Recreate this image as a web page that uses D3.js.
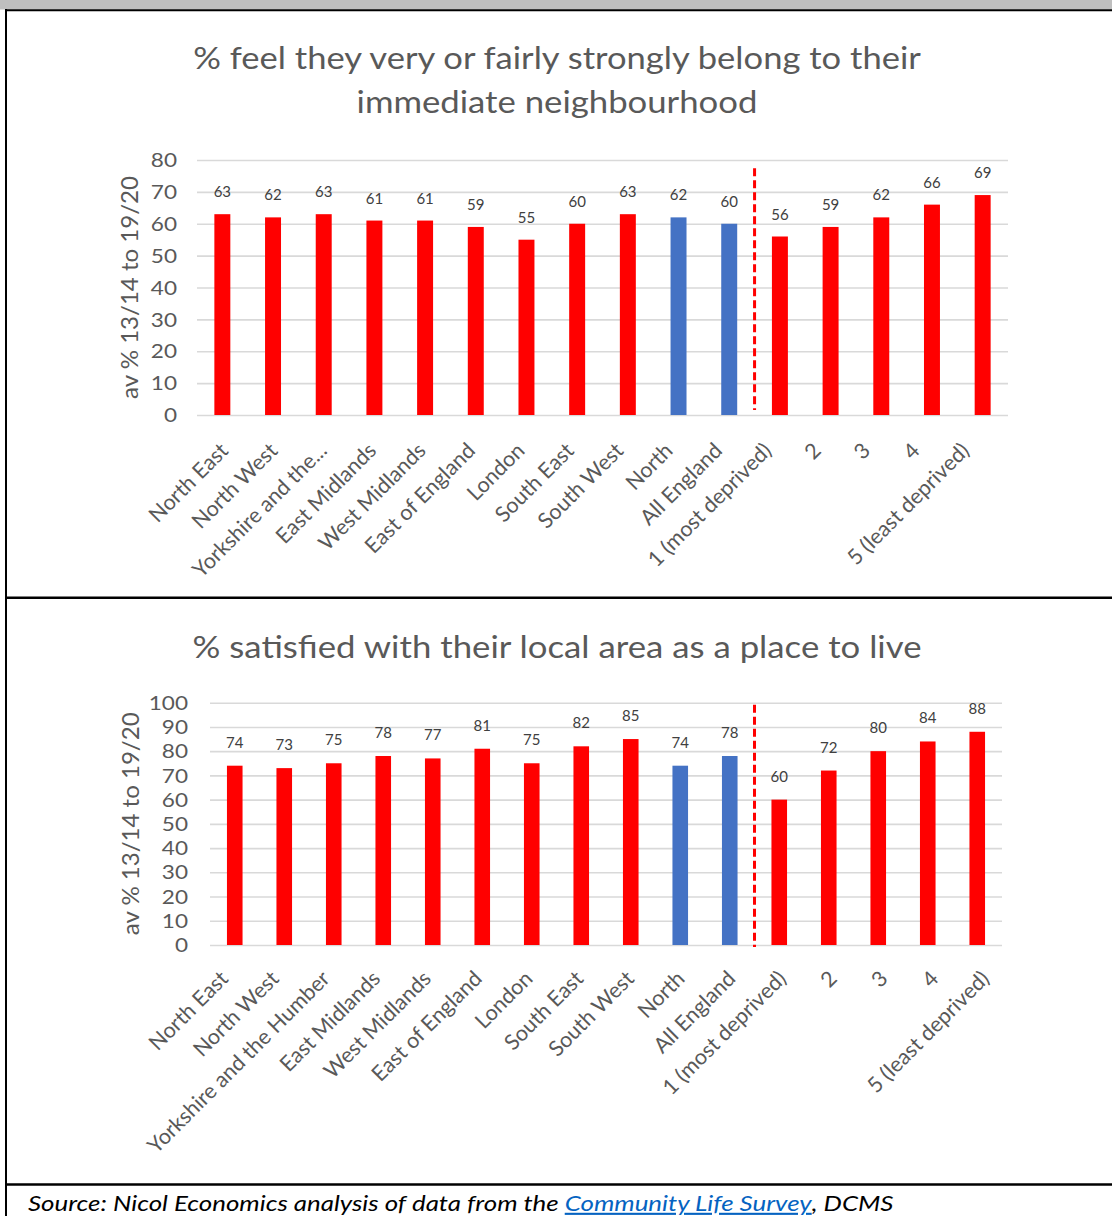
<!DOCTYPE html>
<html>
<head>
<meta charset="utf-8">
<script src="https://cdn.jsdelivr.net/npm/d3@7"></script>
<style>
  html, body { margin: 0; padding: 0; background: #ffffff; }
  svg { display: block; }
</style>
</head>
<body>
<script>
// ---- data ----------------------------------------------------------------
const categories = [
  "North East", "North West", "Yorkshire and the Humber", "East Midlands",
  "West Midlands", "East of England", "London", "South East", "South West",
  "North", "All England", "1 (most deprived)", "2", "3", "4", "5 (least deprived)"
];
// the first chart shows a truncated label for Yorkshire
const belongLabels = categories.map(c => c === "Yorkshire and the Humber" ? "Yorkshire and the..." : c);
const satisfiedLabels = categories.slice();

const belongValues    = [63, 62, 63, 61, 61, 59, 55, 60, 63, 62, 60, 56, 59, 62, 66, 69];
const satisfiedValues = [74, 73, 75, 78, 77, 81, 75, 82, 85, 74, 78, 60, 72, 80, 84, 88];

const highlighted = ["North", "All England"];
const firstDeprivationBand = "1 (most deprived)";

const belongTicks    = [0, 10, 20, 30, 40, 50, 60, 70, 80];
const satisfiedTicks = [0, 10, 20, 30, 40, 50, 60, 70, 80, 90, 100];

const belongTitle    = ["% feel they very or fairly strongly belong to their", "immediate neighbourhood"];
const satisfiedTitle = ["% satisfied with their local area as a place to live"];
const yAxisTitle = "av % 13/14 to 19/20";
const sourceParts = ["Source: Nicol Economics analysis of data from the ", "Community Life Survey", ", DCMS"];

// ---- page ----------------------------------------------------------------
const W = 1112, H = 1216;
const FONT = "Lato, 'Open Sans', 'Noto Sans', sans-serif";
const RED = "#FF0000", BLUE = "#4472C4", GRID = "#D9D9D9", TEXT = "#595959";

const svg = d3.select("body").append("svg").attr("width", W).attr("height", H);

// table frame
svg.append("rect").attr("x", 0).attr("y", 0).attr("width", W).attr("height", 9.5).attr("fill", "#BFBFBF");
const frame = svg.append("g").attr("stroke", "#000").attr("fill", "none");
frame.append("line").attr("x1", 5).attr("x2", W).attr("y1", 10.2).attr("y2", 10.2).attr("stroke-width", 2);
frame.append("line").attr("x1", 6).attr("x2", 6).attr("y1", 9).attr("y2", H).attr("stroke-width", 2);
frame.append("line").attr("x1", 5).attr("x2", W).attr("y1", 597.8).attr("y2", 597.8).attr("stroke-width", 2.4);
frame.append("line").attr("x1", 5).attr("x2", W).attr("y1", 1184.5).attr("y2", 1184.5).attr("stroke-width", 2.4);

// text helper: draws a string and widens it horizontally to a target width
function wideText(parent, str, x, y, opts) {
  const t = parent.append("text")
    .attr("font-family", opts.family || FONT)
    .attr("font-size", opts.size)
    .attr("font-style", opts.style || "normal")
    .attr("fill", opts.fill || TEXT)
    .attr("text-anchor", opts.anchor || "start")
    .text(str);
  const w = t.node().getComputedTextLength();
  const sx = opts.width ? opts.width / w : (opts.sx || 1);
  t.attr("transform", `translate(${x},${y}) scale(${sx},1)`);
  return t;
}

function drawPanel(cfg) {
  const g = svg.append("g");

  const x = d3.scaleBand()
    .domain(cfg.labels)
    .range([cfg.left, cfg.right])
    .paddingInner(0.685)
    .paddingOuter(0.3425);
  const y = d3.scaleLinear().domain([0, cfg.max]).range([cfg.bottom, cfg.top]);
  // rotated category labels sit on their own evenly spaced positions
  const xLabel = d3.scalePoint().domain(cfg.labels).range(cfg.labelRange);

  // title
  cfg.title.forEach((line, i) => {
    wideText(g, line, cfg.titleX, cfg.titleY[i], { size: 30, anchor: "middle", width: cfg.titleWidth[i] });
  });

  // gridlines + value ticks
  const yAxis = g.append("g")
    .attr("transform", `translate(${cfg.left},0)`)
    .call(d3.axisLeft(y).tickValues(cfg.ticks).tickSize(-(cfg.right - cfg.left)).tickFormat(d3.format("d")));
  yAxis.select(".domain").remove();
  yAxis.selectAll(".tick line").attr("stroke", GRID).attr("stroke-width", 1.6);
  yAxis.selectAll(".tick text")
    .attr("font-family", FONT).attr("font-size", 18.5).attr("fill", TEXT)
    .attr("x", 0).attr("dy", "0.36em")
    .attr("transform", `translate(${-cfg.tickPad},0) scale(1.22,1)`);

  // axis title
  const at = g.append("text")
    .attr("font-family", FONT).attr("font-size", 20).attr("fill", TEXT)
    .attr("text-anchor", "middle").attr("dominant-baseline", "central")
    .text(yAxisTitle);
  const len = at.node().getComputedTextLength();
  const fs = 20 * cfg.axisTitleLen / len;
  at.attr("font-size", fs)
    .attr("transform", `translate(${cfg.axisTitleX},${(cfg.top + cfg.bottom) / 2}) scale(${16 / (0.72 * fs)},1) rotate(-90)`);

  const rows = cfg.labels.map((lab, i) => ({ label: lab, cat: categories[i], value: cfg.values[i] }));

  // bars
  g.append("g").selectAll("rect").data(rows).join("rect")
    .attr("x", d => x(d.label))
    .attr("width", x.bandwidth())
    .attr("y", d => y(d.value))
    .attr("height", d => y(0) - y(d.value))
    .attr("fill", d => highlighted.includes(d.cat) ? BLUE : RED);

  // value labels
  g.append("g").selectAll("text").data(rows).join("text")
    .attr("x", d => x(d.label) + x.bandwidth() / 2)
    .attr("y", d => y(d.value) - cfg.labelGap)
    .attr("text-anchor", "middle")
    .attr("font-family", FONT).attr("font-size", 15).attr("fill", "#404040")
    .text(d => d.value);

  // divider between regions and deprivation bands
  const step = x.step();
  const divX = x(cfg.labels[categories.indexOf(firstDeprivationBand)]) - (step - x.bandwidth()) / 2;
  g.append("line")
    .attr("x1", divX).attr("x2", divX)
    .attr("y1", y(cfg.dividerSpan[0])).attr("y2", y(cfg.dividerSpan[1]))
    .attr("stroke", RED).attr("stroke-width", 3).attr("stroke-dasharray", "8,4");

  // category labels
  const xAxis = g.append("g")
    .attr("transform", `translate(0,${cfg.bottom + cfg.labelDY})`)
    .call(d3.axisBottom(xLabel).tickSize(0));
  xAxis.select(".domain").remove();
  xAxis.selectAll(".tick text")
    .attr("font-family", FONT).attr("font-size", 21.5).attr("fill", TEXT)
    .attr("text-anchor", "end")
    .attr("x", 0).attr("y", 0).attr("dy", 0)
    .attr("transform", "rotate(-45)");
}

drawPanel({
  labels: belongLabels, values: belongValues, ticks: belongTicks, max: 80,
  left: 197, right: 1008, top: 160, bottom: 415,
  title: belongTitle, titleX: 557, titleY: [69, 113], titleWidth: [728, 401],
  tickPad: 20, axisTitleX: 129, axisTitleLen: 223,
  labelGap: 17, dividerSpan: [77.4, 1.6], labelRange: [229, 970], labelDY: 37
});

drawPanel({
  labels: satisfiedLabels, values: satisfiedValues, ticks: satisfiedTicks, max: 100,
  left: 210, right: 1002, top: 702.7, bottom: 945,
  title: satisfiedTitle, titleX: 557, titleY: [658], titleWidth: [729],
  tickPad: 22, axisTitleX: 130, axisTitleLen: 223,
  labelGap: 18, dividerSpan: [99.2, -0.8], labelRange: [229, 990], labelDY: 35
});

// source line
const src = svg.append("text")
  .attr("font-family", FONT).attr("font-size", 21).attr("font-style", "italic").attr("fill", "#000");
src.append("tspan").text(sourceParts[0]);
src.append("tspan").attr("fill", "#0563C1").attr("text-decoration", "underline").text(sourceParts[1]);
src.append("tspan").text(sourceParts[2]);
const srcW = src.node().getComputedTextLength();
src.attr("transform", `translate(28,1211) scale(${865 / srcW},1)`);
</script>
</body>
</html>
